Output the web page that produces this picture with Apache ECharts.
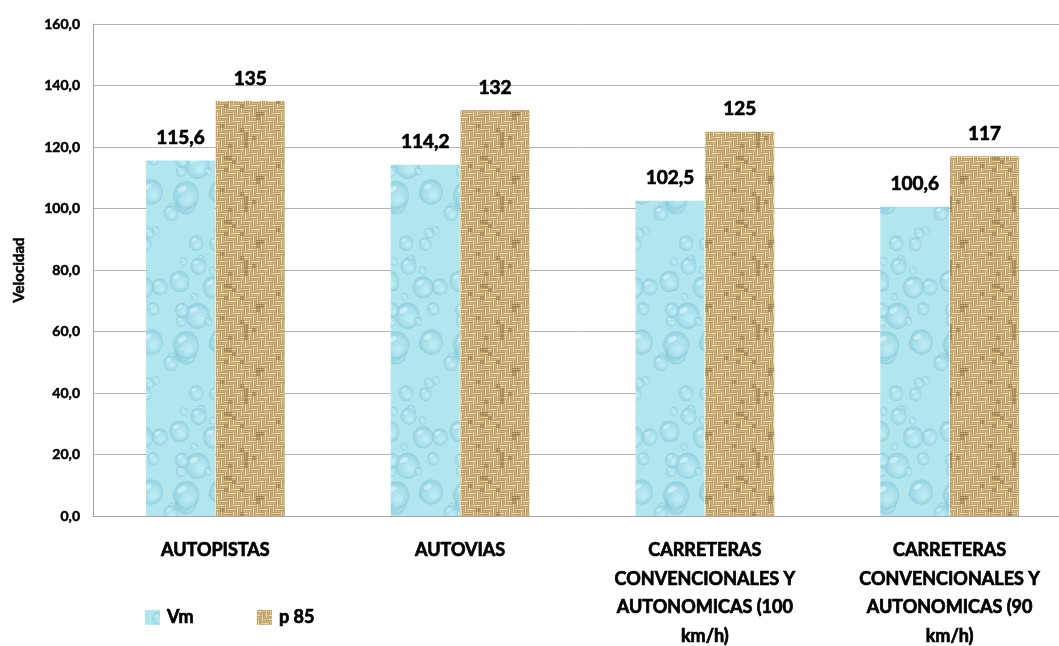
<!DOCTYPE html>
<html>
<head>
<meta charset="utf-8">
<script src="https://cdn.jsdelivr.net/npm/echarts@6/dist/echarts.min.js"></script>
<style>
  html, body { margin: 0; padding: 0; background: #ffffff; }
  #chart { width: 1059px; height: 646px; }
</style>
</head>
<body>
<div id="chart"></div>
<script>
// Road types (line breaks as printed under each group)
const categories = [
  'AUTOPISTAS',
  'AUTOVIAS',
  'CARRETERAS\nCONVENCIONALES Y\nAUTONOMICAS (100\nkm/h)',
  'CARRETERAS\nCONVENCIONALES Y\nAUTONOMICAS (90\nkm/h)'
];
// Mean speed and 85th percentile speed (km/h)
const vmValues = [115.6, 114.2, 102.5, 100.6];
const p85Values = [135, 132, 125, 117];
const yTicks = [0, 20, 40, 60, 80, 100, 120, 140, 160];

const FONT = 'Lato, "Open Sans", sans-serif';

// Heavy black text (a thin outline thickens the bold face)
function heavy(size, extra) {
  return Object.assign({
    color: '#000',
    fontFamily: FONT,
    fontWeight: 'bold',
    fontSize: size,
    textBorderColor: '#000',
    textBorderWidth: 0.7
  }, extra || {});
}

// Deterministic pseudo-noise for the textures
function hash(n) {
  const s = Math.sin(n * 127.1 + 311.7) * 43758.5453;
  return s - Math.floor(s);
}

// Light-blue water-drop texture
function makeWater() {
  const W = 70, H = 150;
  const c = document.createElement('canvas');
  c.width = W; c.height = H;
  const g = c.getContext('2d');
  g.fillStyle = '#b2e6ee';
  g.fillRect(0, 0, W, H);
  for (let k = 0; k < 26; k++) {
    const x = hash(k * 3.1) * W;
    const y = hash(k * 7.7 + 1) * H;
    const r = 3.5 + hash(k * 5.3 + 2) * (k % 4 === 0 ? 11 : 5);
    for (const dx of [-W, 0, W]) {
      for (const dy of [-H, 0, H]) {
        const cx = x + dx, cy = y + dy;
        const gr = g.createRadialGradient(cx + r * 0.25, cy + r * 0.3, r * 0.2, cx, cy, r);
        gr.addColorStop(0, 'rgba(190,236,244,0.85)');
        gr.addColorStop(0.7, 'rgba(160,218,230,0.7)');
        gr.addColorStop(1, 'rgba(128,196,212,0.55)');
        g.fillStyle = gr;
        g.beginPath();
        g.ellipse(cx, cy, r, r * 1.08, 0, 0, Math.PI * 2);
        g.fill();
        g.fillStyle = 'rgba(228,250,253,0.55)';
        g.beginPath();
        g.ellipse(cx - r * 0.3, cy - r * 0.45, r * 0.35, r * 0.2, -0.5, 0, Math.PI * 2);
        g.fill();
      }
    }
  }
  return c;
}

// Woven burlap texture: short light strands over a brown ground
function makeBurlap() {
  const c = document.createElement('canvas');
  const cell = 4, n = 16;
  c.width = cell * n; c.height = cell * n;
  const g = c.getContext('2d');
  g.fillStyle = '#9a7c4e';
  g.fillRect(0, 0, c.width, c.height);
  for (let i = 0; i < n; i++) {
    for (let j = 0; j < n; j++) {
      const x = i * cell, y = j * cell;
      const horiz = ((i >> 1) + (j >> 1) + (j & 1 ? (i & 1) : 0)) % 2 === 0;
      const t = hash(i * 17 + j * 31);
      const light = 'rgb(' + Math.round(228 + t * 22) + ',' + Math.round(206 + t * 20) + ',' + Math.round(150 + t * 22) + ')';
      g.fillStyle = light;
      if (horiz) {
        g.fillRect(x, y + 0.6, cell, 1.5);
        g.fillRect(x, y + 2.7, cell, 0.9);
      } else {
        g.fillRect(x + 0.6, y, 1.5, cell);
        g.fillRect(x + 2.7, y, 0.9, cell);
      }
      if (t > 0.92) {
        g.fillStyle = 'rgba(100,75,40,0.35)';
        g.fillRect(x, y, cell, cell);
      }
    }
  }
  return c;
}

const waterPattern = { image: makeWater(), repeat: 'repeat' };
const burlapPattern = { image: makeBurlap(), repeat: 'repeat' };

const comma1 = v => v.toFixed(1).replace('.', ',');

const labelStyle = heavy(19, { show: true, position: 'top', distance: 13 });

const chart = echarts.init(document.getElementById('chart'), null, { renderer: 'canvas' });
chart.setOption({
  backgroundColor: '#ffffff',
  animation: false,
  grid: { left: 93, right: -13, top: 24, bottom: 130, containLabel: false, outerBoundsMode: 'none' },
  legend: {
    left: 140,
    top: 603,
    itemWidth: 15,
    itemHeight: 15,
    itemGap: 63,
    icon: 'rect',
    textStyle: heavy(18, { padding: [0, 0, 0, 2] }),
    data: ['Vm', 'p 85']
  },
  xAxis: {
    type: 'category',
    data: categories,
    axisLine: { show: true, lineStyle: { color: '#a6a6a6', width: 1 } },
    axisTick: { show: false },
    axisLabel: heavy(18, { lineHeight: 28.5, margin: 20, interval: 0 })
  },
  yAxis: {
    type: 'value',
    min: yTicks[0],
    max: yTicks[yTicks.length - 1],
    interval: yTicks[1] - yTicks[0],
    name: 'Velocidad',
    nameLocation: 'middle',
    nameGap: 66,
    nameTextStyle: heavy(15, { textBorderWidth: 0.5 }),
    axisLine: { show: true, lineStyle: { color: '#a6a6a6', width: 1 } },
    axisTick: { show: false },
    axisLabel: heavy(14, { margin: 13, textBorderWidth: 0.5, formatter: comma1 }),
    splitLine: { show: true, lineStyle: { color: '#b3b3b3', width: 1 } }
  },
  series: [
    {
      name: 'Vm',
      type: 'bar',
      data: vmValues,
      barWidth: 69,
      barGap: '1%',
      itemStyle: { color: waterPattern },
      label: Object.assign({}, labelStyle, { formatter: p => comma1(p.value) })
    },
    {
      name: 'p 85',
      type: 'bar',
      data: p85Values,
      barWidth: 69,
      itemStyle: { color: burlapPattern },
      label: Object.assign({}, labelStyle, { formatter: p => String(p.value) })
    }
  ]
});
</script>
</body>
</html>
